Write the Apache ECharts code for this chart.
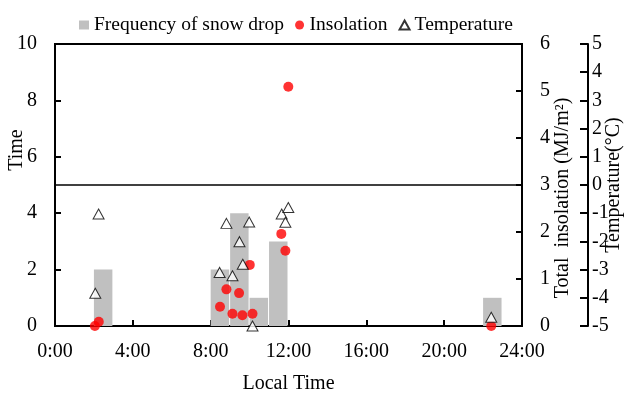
<!DOCTYPE html>
<html><head><meta charset="utf-8">
<script src="https://cdn.jsdelivr.net/npm/echarts@6/dist/echarts.min.js"></script>
<style>html,body{margin:0;padding:0;background:#fff}#c{width:626px;height:395px}</style>
</head><body><div id="c"></div>
<script>
// Frequency of snow drop: hourly bins (start hour) and counts
const barHours = [2, 8, 9, 10, 11, 22];
const barCounts = [2, 2, 4, 1, 3, 1];
// Insolation (MJ/m2) at time of snow drop (hours)
const insolTime = [2.05, 2.25, 8.48, 8.81, 9.12, 9.46, 9.63, 10.01, 10.15, 11.63, 11.84, 11.99, 22.42];
const insolValue = [0.0, 0.09, 0.41, 0.78, 0.26, 0.70, 0.23, 1.30, 0.26, 1.96, 1.60, 5.09, 0.0];
// Temperature (°C) at time of snow drop (hours)
const tempTime = [2.24, 2.07, 8.46, 8.81, 9.12, 9.48, 9.65, 9.98, 10.15, 11.65, 11.84, 11.99, 22.42];
const tempValue = [-1.03, -3.84, -3.10, -1.36, -3.22, -2.01, -2.81, -1.31, -5.0, -1.03, -1.32, -0.80, -4.69];
// Tick labels
const xTickHours = [0, 4, 8, 12, 16, 20, 24];

const FONT = 'Liberation Serif';
const chart = echarts.init(document.getElementById('c'));
const barData = barHours.map((h, i) => [h, barCounts[i]]);
const insolData = insolTime.map((t, i) => [t, insolValue[i]]);
const tempData = tempTime.map((t, i) => [t, tempValue[i]]);
const axisTxt = {color: '#000', fontFamily: FONT, fontSize: 20};

chart.setOption({
  animation: false,
  textStyle: {fontFamily: FONT, color: '#000'},
  legend: {
    left: 74, top: 10, itemWidth: 10, itemHeight: 9, itemGap: 11,
    textStyle: {fontFamily: FONT, fontSize: 19.5, color: '#000'},
    data: [
      {name: 'Frequency of snow drop', icon: 'rect'},
      {name: 'Insolation', icon: 'circle'},
      {name: 'Temperature'}
    ]
  },
  grid: {left: 55, top: 44, right: 104, bottom: 69, show: true, borderColor: '#000', borderWidth: 2,
         outerBoundsMode: 'none', containLabel: false},
  xAxis: {
    type: 'value', min: 0, max: 24, interval: 4,
    name: 'Local Time', nameLocation: 'middle', nameGap: 48, nameMoveOverlap: false,
    nameTextStyle: axisTxt,
    axisLine: {show: true, lineStyle: {color: '#000', width: 2}},
    axisTick: {show: true, inside: true, length: 6, lineStyle: {color: '#000', width: 2}},
    axisLabel: Object.assign({margin: 16, formatter: v => xTickHours.indexOf(v) >= 0 ? v + ':00' : ''}, axisTxt),
    splitLine: {show: false}
  },
  yAxis: [
    {
      type: 'value', min: 0, max: 10, interval: 2, position: 'left',
      name: 'Time', nameLocation: 'middle', nameGap: 28, nameRotate: 90, nameMoveOverlap: false,
      nameTextStyle: Object.assign({padding: [0, 0, 0, 70]}, axisTxt),
      axisLine: {show: true, lineStyle: {color: '#000', width: 2}},
      axisTick: {show: true, inside: true, length: 6, lineStyle: {color: '#000', width: 2}},
      axisLabel: Object.assign({margin: 18}, axisTxt),
      splitLine: {show: false}
    },
    {
      type: 'value', min: 0, max: 6, interval: 1, position: 'right',
      name: 'Total  insolation (MJ/m²)', nameLocation: 'middle', nameGap: 31, nameRotate: 90, nameMoveOverlap: false,
      nameTextStyle: Object.assign({padding: [0, 26, 0, 0]}, axisTxt),
      axisLine: {show: true, lineStyle: {color: '#000', width: 2}},
      axisTick: {show: true, inside: true, length: 6, lineStyle: {color: '#000', width: 2}},
      axisLabel: Object.assign({margin: 18}, axisTxt),
      splitLine: {show: false}
    },
    {
      type: 'value', min: -5, max: 5, interval: 1, position: 'right', offset: 66,
      name: 'Temperature(°C)', nameLocation: 'middle', nameGap: 16, nameRotate: 90, nameMoveOverlap: false,
      nameTextStyle: axisTxt,
      axisLine: {show: true, lineStyle: {color: '#000', width: 2}},
      axisTick: {show: true, inside: true, length: 8, lineStyle: {color: '#000', width: 2}},
      axisLabel: Object.assign({margin: 4}, axisTxt),
      splitLine: {show: false}
    }
  ],
  series: [
    {
      name: 'Frequency of snow drop', type: 'custom', yAxisIndex: 0,
      itemStyle: {color: '#c0c0c0'},
      encode: {x: 0, y: 1},
      renderItem: function (params, api) {
        const h = api.value(0), v = api.value(1);
        const p0 = api.coord([h, 0]);
        const p1 = api.coord([h + 1, v]);
        return {
          type: 'rect',
          shape: {x: p0[0], y: p1[1], width: p1[0] - p0[0] - 1, height: p0[1] - p1[1]},
          style: {fill: '#c0c0c0'}
        };
      },
      data: barData, z: 1
    },
    {
      name: 'Insolation', type: 'scatter', yAxisIndex: 1, clip: false,
      symbol: 'circle', symbolSize: 10,
      itemStyle: {color: '#ff0000'},
      data: insolData, z: 4
    },
    {
      name: 'Temperature', type: 'scatter', yAxisIndex: 2, clip: false,
      symbol: 'triangle', symbolSize: [11, 10],
      itemStyle: {color: '#ffffff', borderColor: '#000', borderWidth: 1},
      data: tempData, z: 5,
      markLine: {
        silent: true, symbol: 'none', label: {show: false},
        lineStyle: {color: '#000', width: 1.5, type: 'solid'},
        data: [{yAxis: 0}]
      }
    }
  ]
});
</script></body></html>
